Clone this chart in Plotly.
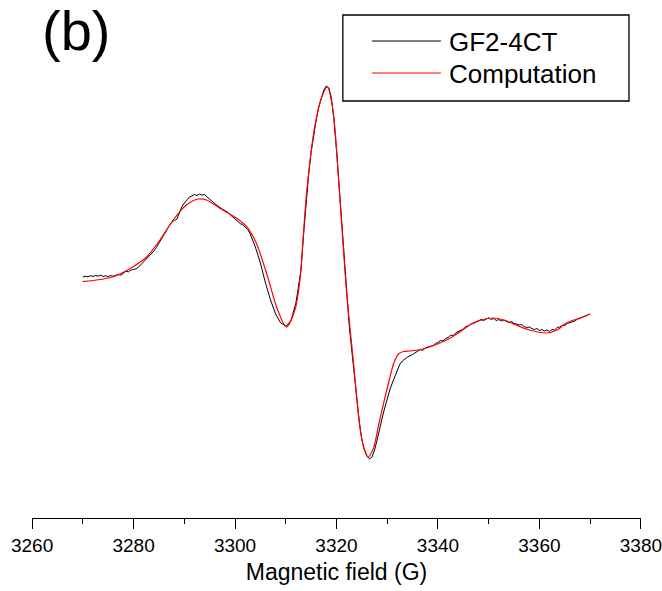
import plotly.graph_objects as go

# ---------------- data ----------------
series_names = ["GF2-4CT", "Computation"]

# experimental spectrum (Magnetic field in G, intensity in arbitrary units)
exp_field = [
    3270, 3270.5, 3271, 3271.5, 3272, 3272.5, 3273, 3273.5, 3274, 3274.5,
    3275, 3275.5, 3276, 3276.5, 3277, 3277.5, 3278, 3278.5, 3279, 3279.5,
    3280, 3280.5, 3281, 3281.5, 3282, 3282.5, 3283, 3283.5, 3284, 3284.5,
    3285, 3285.5, 3286, 3286.5, 3287, 3287.5, 3288, 3288.5, 3289, 3289.5,
    3290, 3290.5, 3291, 3291.5, 3292, 3292.5, 3293, 3293.5, 3294, 3294.5,
    3295, 3295.5, 3296, 3296.5, 3297, 3297.5, 3298, 3298.5, 3299, 3299.5,
    3300, 3300.5, 3301, 3301.5, 3302, 3302.5, 3303, 3303.5, 3304, 3304.5,
    3305, 3306, 3307, 3308, 3309,
    3310, 3311, 3312, 3313, 3313.5, 3314, 3314.5, 3315, 3315.5, 3316,
    3316.5, 3317, 3317.5, 3318, 3318.5, 3319, 3319.5, 3320, 3320.5, 3321,
    3321.5, 3322, 3322.5, 3323, 3323.5, 3324, 3324.5, 3325, 3325.5, 3326,
    3326.5, 3327, 3327.5, 3328, 3328.5, 3329, 3329.5, 3330, 3330.5, 3331,
    3331.5, 3332, 3332.5, 3333, 3334, 3335,
    3336, 3336.5, 3337, 3337.5, 3338, 3338.5, 3339, 3339.5, 3340, 3340.5,
    3341, 3341.5, 3342, 3342.5, 3343, 3343.5, 3344, 3344.5, 3345, 3345.5,
    3346, 3346.5, 3347, 3347.5, 3348, 3348.5, 3349, 3349.5, 3350, 3350.5,
    3351, 3351.5, 3352, 3352.5, 3353, 3353.5, 3354, 3354.5, 3355, 3355.5,
    3356, 3356.5, 3357, 3357.5, 3358, 3358.5, 3359, 3359.5, 3360, 3360.5,
    3361, 3361.5, 3362, 3362.5, 3363, 3363.5, 3364, 3364.5, 3365, 3365.5,
    3366, 3366.5, 3367, 3367.5, 3368, 3368.5, 3369, 3369.5, 3370,
]
exp_intensity = [
    23, 23.8, 23.2, 24.3, 23.5, 24.6, 23.8, 24.8, 23.6, 24.2,
    23.4, 24.5, 23.8, 24.4, 25.5, 24.8, 26.5, 28.8, 28.2, 30,
    30.5, 31.2, 33, 35.5, 38.5, 41.5, 44, 45.8, 49, 52.5,
    57, 61.5, 66, 69.5, 74, 77.5, 79.5, 80.5, 87, 93,
    97, 100.5, 103, 104, 105.5, 104.5, 106, 104.8, 105.5, 103,
    100.5, 98, 96.5, 94.5, 92.5, 90.8, 89.5, 88, 85.5, 83,
    80.5, 78.2, 76.5, 75.2, 73, 70.5, 66, 60, 53, 45,
    37, 17, 0, -14, -23,
    -26, -21, -3, 30, 65, 100, 125, 148, 165, 180,
    193, 203, 210, 214, 212, 202, 180, 150, 115, 80,
    42, 5, -25, -50, -75, -100, -122, -140, -150, -156,
    -159, -157, -150, -140, -128, -118, -108, -98, -90, -83,
    -76, -70, -64, -61, -57, -54.5,
    -51, -49.5, -50.5, -48, -47, -46.5, -45.8, -43.5, -42.5, -40.5,
    -40.8, -38.5, -37.5, -35.2, -35.5, -33, -31.5, -30.5, -29, -26.5,
    -25.8, -24, -23.5, -22, -21, -19.5, -20.5, -19, -17.8, -19.5,
    -18.5, -20.5, -19.5, -21, -20, -21.5, -22.5, -21.5, -23.5, -24,
    -25, -24.5, -26.5, -27.5, -27, -28.5, -29.5, -28.5, -30.5, -29.5,
    -31, -30, -31.5, -29.5, -30, -27.5, -27, -25.5, -25.5, -23.5,
    -22.5, -21.5, -21, -19, -18.5, -17, -16.5, -15, -14,
]

# computed (simulated) spectrum
sim_field = [
    3270, 3276, 3279.9, 3282.6, 3285.2, 3287.8, 3290.4, 3292.7, 3294.4, 3297,
    3300.3, 3302.3, 3304.2, 3306.2, 3308.4, 3310.1, 3311.8,
    3312.8, 3313.4, 3314.1, 3315.7, 3317.1, 3318.2, 3319.3, 3320.6, 3322.0, 3323.3,
    3324.6, 3325.4, 3326.2, 3327.3, 3328.3, 3329.2, 3330.4, 3331.3, 3332.2, 3333.2,
    3334.5, 3336, 3337.7, 3341.7, 3344, 3346.9, 3349, 3350.8, 3353, 3355.4,
    3358, 3361.4, 3363.5, 3365.3, 3368, 3370,
]
sim_intensity = [
    18.3, 23.3, 33.3, 43.3, 60, 80, 95, 101, 100, 91.7,
    81.7, 73.3, 56.7, 27, -10, -27, -10,
    20, 60, 107, 173, 203, 213, 190, 107, 7, -60,
    -127, -148, -157, -148, -125, -105, -80, -63, -54, -51.5,
    -51, -50, -48, -40, -33, -23, -19.5, -18, -20, -25,
    -30, -33, -30, -23, -18, -14,
]

x_ticks = [3260, 3280, 3300, 3320, 3340, 3360, 3380]
x_minor_ticks = [3270, 3290, 3310, 3330, 3350, 3370]

FONT = "Liberation Sans, Arial, sans-serif"

fig = go.Figure()
fig.add_trace(go.Scatter(x=exp_field, y=exp_intensity, mode="lines",
                         name=series_names[0],
                         line=dict(color="#000000", width=1)))
fig.add_trace(go.Scatter(x=sim_field, y=sim_intensity, mode="lines",
                         name=series_names[1],
                         line=dict(color="#ff0000", width=1.2, shape="spline", smoothing=0.8)))

fig.update_layout(
    width=662, height=591,
    margin=dict(l=32, r=21, t=10, b=73, autoexpand=False),
    paper_bgcolor="white", plot_bgcolor="white",
    showlegend=False,
    font=dict(family=FONT, color="black"),
    xaxis=dict(
        range=[3259.98, 3380.02], tickvals=x_ticks, ticktext=[str(v) for v in x_ticks],
        ticks="outside", ticklen=10, tickwidth=1.3, tickcolor="black",
        ticklabeloverflow="allow", automargin=False,
        minor=dict(tickvals=x_minor_ticks,
                   ticks="outside", ticklen=5, tickwidth=1.3, tickcolor="black"),
        showline=True, linecolor="black", linewidth=1.3,
        showgrid=False, zeroline=False,
        tickfont=dict(size=19, family=FONT),
        title=dict(text="Magnetic field (G)", font=dict(size=23, family=FONT), standoff=8),
    ),
    yaxis=dict(range=[-218, 290], visible=False, showgrid=False, zeroline=False),
)

# legend box drawn in paper coords
def px_x(p):
    return (p - 32.3) / 608.7

def px_y(p):
    return (518 - p) / 508

fig.add_shape(type="rect", xref="paper", yref="paper",
              x0=px_x(343), x1=px_x(629), y0=px_y(101), y1=px_y(15),
              line=dict(color="black", width=1.3), fillcolor="white", layer="above")
legend_colors = ["#000000", "#ff0000"]
legend_rows = [41, 73]
for name, col, row in zip(series_names, legend_colors, legend_rows):
    fig.add_shape(type="line", xref="paper", yref="paper",
                  x0=px_x(372), x1=px_x(441), y0=px_y(row), y1=px_y(row),
                  line=dict(color=col, width=1.2), layer="above")
    fig.add_annotation(text=name, xref="paper", yref="paper",
                       x=px_x(447), y=px_y(row + 1), xanchor="left", yanchor="middle",
                       showarrow=False, font=dict(size=26, family=FONT, color="black"))

fig.add_annotation(text="(b)", xref="paper", yref="paper",
                   x=px_x(40), y=px_y(30), xanchor="left", yanchor="middle",
                   showarrow=False, font=dict(size=56, family=FONT, color="black"))

fig.write_html("out.html")
